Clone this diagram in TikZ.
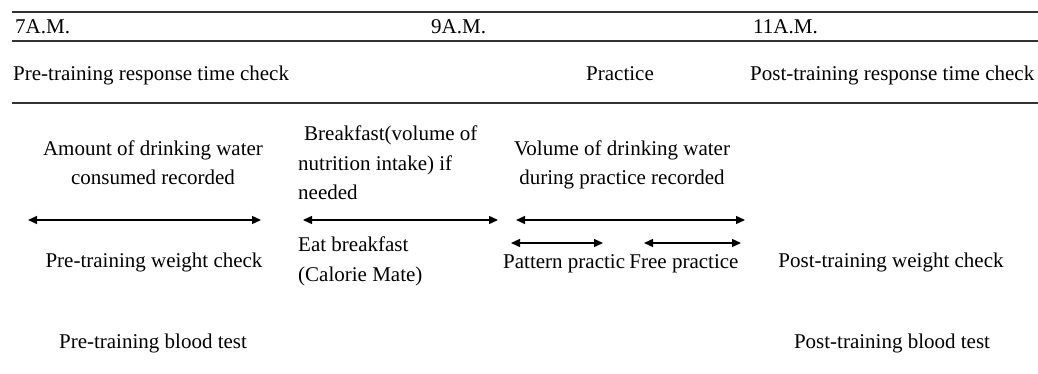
\documentclass[tikz,border=0pt]{standalone}
\usepackage{fontspec}
\setmainfont{Liberation Serif}
\usetikzlibrary{arrows.meta,positioning}

\begin{document}
\begin{tikzpicture}[x=1pt, y=-1pt,
    lbl/.style={inner sep=0pt, font=\fontsize{21}{29.5}\selectfont},
    span/.style={{Triangle[length=9pt,width=8pt]}-{Triangle[length=9pt,width=8pt]}, line width=1.4pt},
    rule/.style={line width=1.4pt, black!80}]
    \useasboundingbox (0,0) rectangle (1038,374);

    % horizontal rules
    \foreach \y/\n in {12/ra, 41/rb, 103/rc} {
        \coordinate (\n s) at (12,\y);
        \coordinate (\n e) at (1038,\y);
        \draw[rule] (\n s) -- (\n e);
    }

    % time labels
    \node[lbl, anchor=base west] (tseven) at (15,34) {7A.M.};
    \node[lbl, anchor=base west] (tnine) at (431,34) {9A.M.};
    \node[lbl, anchor=base west] (televen) at (753,34) {11A.M.};

    % response time checks
    \node[lbl, anchor=base west] (prert) at (13,81) {Pre-training response time check};
    \node[lbl, anchor=base west] (prac) at (586,81) {Practice};
    \node[lbl, anchor=base west] (postrt) at (750,81) {Post-training response time check};

    % upper notes (base = last line)
    \node[lbl, align=center, anchor=base] (water) at (153,185) {Amount of drinking water\\consumed recorded};
    \node[lbl, align=left, anchor=base west] (bfast) at (298,200) {\hspace{6pt}Breakfast(volume of\\nutrition intake) if\\needed};
    \node[lbl, align=center, anchor=base] (vol) at (622,185) {Volume of drinking water\\during practice recorded};

    % time spans
    \coordinate (aL) at (28,220);
    \coordinate (aR) at (261,220);
    \coordinate (bL) at (303,220);
    \coordinate (bR) at (498,220);
    \coordinate (cL) at (516,220);
    \coordinate (cR) at (745,220);
    \coordinate (pL) at (511,243);
    \coordinate (pR) at (603,243);
    \coordinate (fL) at (644,243);
    \coordinate (fR) at (741,243);
    \draw[span] (aL) -- (aR);
    \draw[span] (bL) -- (bR);
    \draw[span] (cL) -- (cR);
    \draw[span] (pL) -- (pR);
    \draw[span] (fL) -- (fR);

    % lower notes
    \node[lbl, anchor=base] (prew) at (154,267) {Pre-training weight check};
    \node[lbl, align=left, anchor=base west] (eat) at (298,281) {Eat breakfast\\(Calorie Mate)};
    \node[lbl, anchor=base west] (patt) at (503,268) {Pattern practic};
    \node[lbl, anchor=base west] (free) at ([xshift=4pt]patt.base east) {Free practice};
    \node[lbl, anchor=base] (postw) at (891,267) {Post-training weight check};
    \node[lbl, anchor=base] (preb) at (153,348) {Pre-training blood test};
    \node[lbl, anchor=base] (postb) at (892,348) {Post-training blood test};
\end{tikzpicture}
\end{document}
